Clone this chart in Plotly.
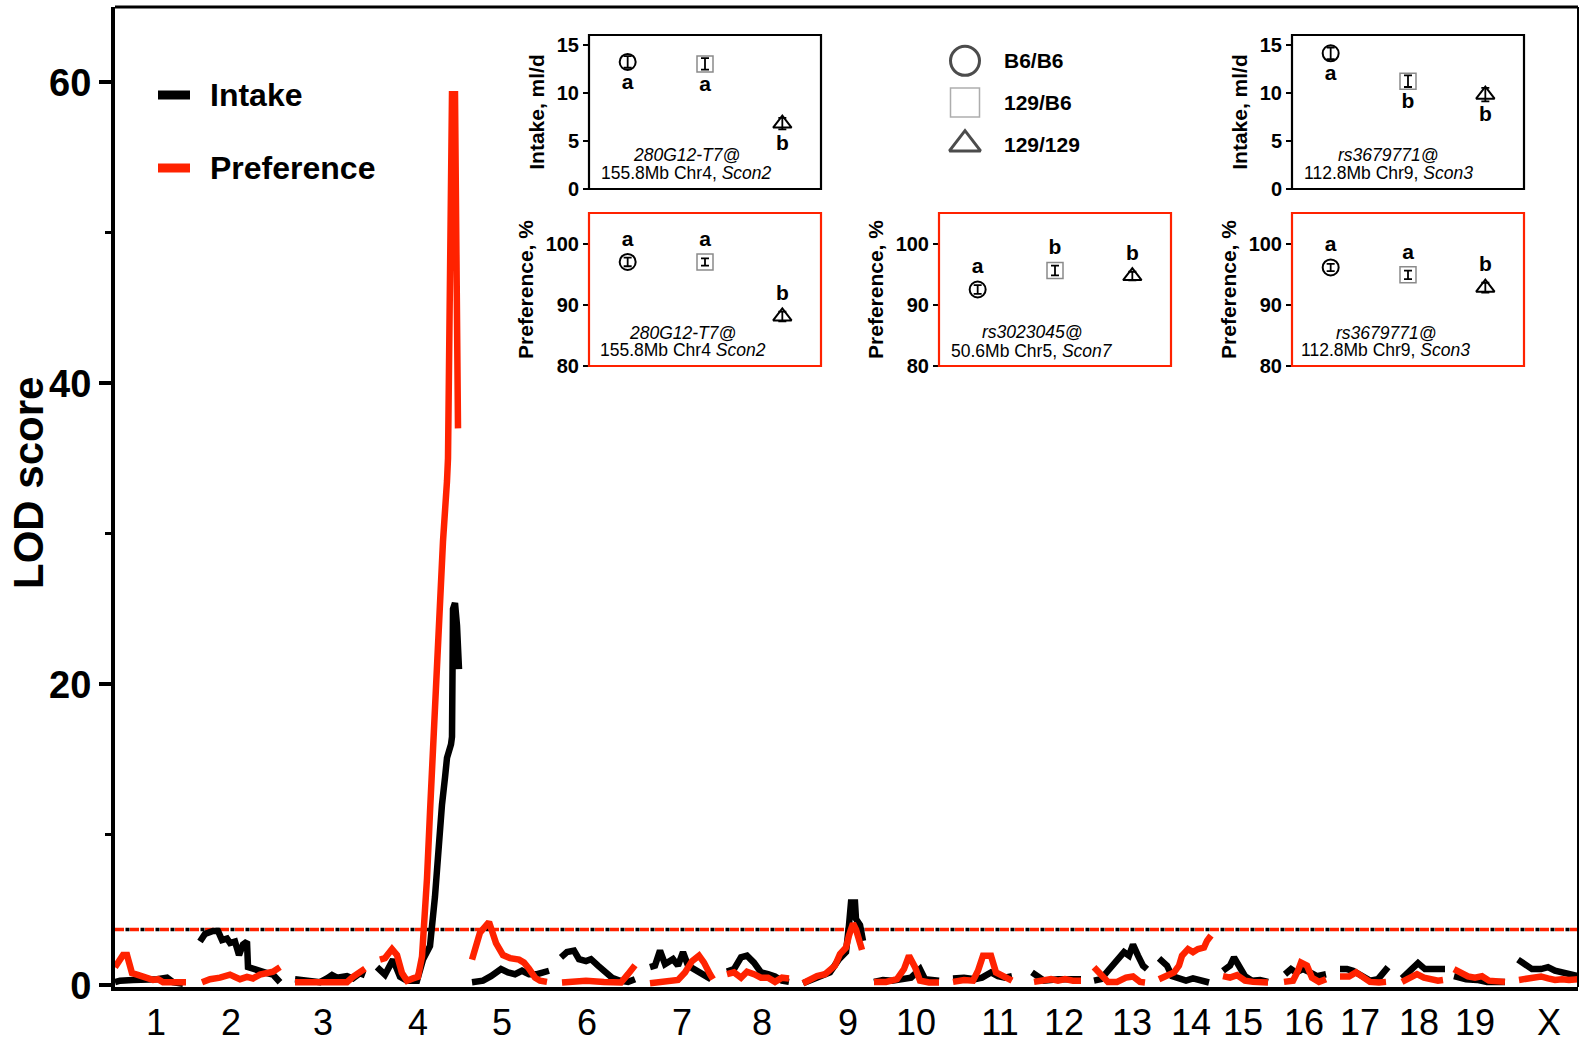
import plotly.graph_objects as go

FONT = "Arial, 'Liberation Sans', Helvetica, sans-serif"
RED = "#ff2200"

# ---------------- main LOD scan data ----------------
chrom_names = ["1", "2", "3", "4", "5", "6", "7", "8", "9", "10",
               "11", "12", "13", "14", "15", "16", "17", "18", "19", "X"]
# chromosome start offsets on the concatenated genome axis (cM-like units)
chrom_start = [0, 85, 180, 262, 357, 446, 535, 612, 688, 759,
               838, 915, 979, 1044, 1108, 1169, 1225, 1287, 1339, 1403]
genome_end = 1463
label_pos = [41, 116, 208, 303, 387, 472, 567, 647, 733, 801,
             885, 949, 1017, 1076, 1128, 1189, 1245, 1304, 1360, 1434]

intake_pos = [
    [0, 5, 18, 28, 42, 52, 58, 68],
    [0, 5, 13, 18, 22, 27, 30, 35, 39, 43, 47, 48, 53, 60, 67, 73, 80],
    [0, 12, 25, 32, 37, 42, 52, 58, 65, 70],
    [0, 8, 16, 23, 30, 40, 46, 53, 58, 61, 65, 68, 70, 74, 75, 76, 78, 80, 82],
    [0, 11, 19, 29, 36, 43, 50, 57, 65, 72, 77],
    [0, 6, 13, 18, 25, 30, 37, 44, 51, 59, 67, 74],
    [0, 5, 10, 15, 23, 28, 33, 38, 44, 49, 56, 61],
    [0, 7, 14, 20, 27, 34, 41, 48, 55, 62],
    [0, 14, 27, 36, 43, 46, 48, 52, 53, 57, 60],
    [0, 9, 18, 26, 37, 46, 51, 58, 65],
    [0, 11, 22, 29, 38, 45, 52, 59],
    [2, 14, 28, 43, 51],
    [0, 7, 14, 23, 30, 35, 39, 44, 49, 53],
    [0, 8, 13, 20, 27, 34, 41, 50],
    [0, 7, 11, 16, 22, 29, 37, 45],
    [1, 7, 12, 19, 26, 33, 42],
    [0, 7, 13, 22, 30, 38, 45, 48],
    [0, 7, 16, 23, 30, 38, 43],
    [0, 12, 23, 33, 44, 51],
    [0, 7, 14, 23, 30, 37, 44, 51, 60],
]
intake_lod = [
    [0.2, 0.3, 0.35, 0.35, 0.4, 0.5, 0.2, 0.1],
    [2.9, 3.4, 3.6, 3.6, 3.0, 3.1, 2.8, 2.9, 2.0, 2.7, 2.9, 1.2, 1.1, 0.9, 0.8, 0.7, 0.2],
    [0.4, 0.27, 0.2, 0.45, 0.67, 0.5, 0.6, 0.45, 0.8, 0.67],
    [1.2, 0.7, 1.7, 0.56, 0.3, 0.3, 1.7, 2.6, 5.9, 9.3, 12.0, 13.8, 15.1, 16.0, 16.5, 25.0, 25.4, 23.9, 21.0],
    [0.2, 0.3, 0.6, 1.07, 0.85, 0.73, 0.96, 0.73, 0.73, 0.85, 0.96],
    [1.85, 2.2, 2.3, 1.73, 1.6, 1.73, 1.3, 0.96, 0.5, 0.3, 0.22, 0.4],
    [1.2, 1.3, 2.3, 1.4, 1.73, 1.3, 2.2, 1.3, 1.07, 0.85, 0.6, 0.4],
    [0.9, 1.07, 1.85, 1.96, 1.5, 0.85, 0.73, 0.58, 0.3, 0.22],
    [0.13, 0.5, 0.85, 1.73, 2.2, 4.0, 5.5, 5.5, 4.4, 4.0, 2.95],
    [0.22, 0.35, 0.3, 0.35, 0.5, 1.07, 0.4, 0.35, 0.3],
    [0.45, 0.5, 0.4, 0.5, 0.85, 0.6, 0.5, 0.6],
    [0.85, 0.3, 0.4, 0.35, 0.4],
    [0.3, 0.4, 0.96, 1.6, 2.2, 1.96, 2.7, 1.96, 1.3, 1.07],
    [1.78, 1.3, 0.6, 0.5, 0.3, 0.45, 0.35, 0.18],
    [0.96, 1.3, 1.85, 1.2, 0.6, 0.3, 0.35, 0.22],
    [0.73, 1.07, 0.85, 1.07, 0.85, 0.6, 0.73],
    [1.07, 1.07, 0.96, 0.6, 0.3, 0.4, 0.96, 1.2],
    [0.45, 0.85, 1.47, 1.07, 1.1, 1.07, 1.07],
    [0.6, 0.4, 0.35, 0.22, 0.22, 0.22],
    [1.7, 1.4, 1.07, 1.07, 1.2, 0.96, 0.85, 0.73, 0.6],
]
pref_pos = [
    [0, 8, 12, 17, 22, 28, 33, 38, 43, 48, 55, 62, 71],
    [2, 10, 20, 30, 35, 40, 47, 53, 60, 67, 73, 80],
    [0, 12, 25, 38, 52, 58, 65, 70],
    [3, 8, 15, 20, 25, 30, 36, 41, 45, 47, 50, 53, 56, 60, 63, 66, 70, 71, 75, 78, 81],
    [0, 8, 17, 24, 31, 38, 47, 52, 57, 63, 68, 75],
    [1, 11, 25, 43, 60, 67, 74],
    [0, 14, 28, 35, 42, 49, 54, 60, 63],
    [0, 7, 14, 20, 27, 34, 41, 48, 55, 62],
    [0, 7, 14, 22, 27, 32, 37, 43, 46, 50, 53, 57, 59],
    [0, 12, 23, 30, 35, 41, 46, 55, 65],
    [0, 11, 20, 25, 30, 38, 43, 50, 59],
    [4, 14, 21, 28, 35, 43, 51],
    [0, 7, 14, 23, 32, 39, 46, 51],
    [0, 8, 15, 20, 23, 29, 34, 39, 45, 48, 52],
    [0, 7, 14, 22, 30, 45],
    [0, 9, 14, 17, 23, 28, 35, 42],
    [0, 9, 16, 23, 30, 39, 46],
    [0, 9, 15, 22, 29, 36, 41],
    [0, 7, 14, 21, 28, 35, 44, 51],
    [1, 8, 16, 23, 30, 37, 44, 51, 60],
]
pref_lod = [
    [1.2, 2.0, 2.0, 0.8, 0.7, 0.55, 0.45, 0.35, 0.4, 0.2, 0.2, 0.2, 0.2],
    [0.2, 0.4, 0.5, 0.7, 0.55, 0.4, 0.55, 0.45, 0.7, 0.8, 0.9, 1.2],
    [0.2, 0.22, 0.2, 0.27, 0.2, 0.55, 0.9, 1.1],
    [1.7, 1.8, 2.4, 2.0, 0.8, 0.3, 0.45, 0.56, 1.9, 3.7, 7.1, 11.5, 16.0, 20.5, 25.0, 29.5, 33.5, 35.0, 59.2, 59.2, 37.0],
    [1.7, 3.5, 4.2, 2.8, 2.0, 1.8, 1.7, 1.5, 1.1, 0.5, 0.3, 0.22],
    [0.18, 0.22, 0.3, 0.22, 0.18, 0.73, 1.33],
    [0.13, 0.22, 0.35, 0.85, 1.6, 1.96, 1.5, 0.73, 0.4],
    [0.73, 0.85, 0.5, 0.9, 0.73, 0.5, 0.5, 0.22, 0.5, 0.45],
    [0.13, 0.4, 0.6, 0.73, 1.07, 1.3, 2.07, 2.5, 3.3, 4.1, 3.7, 2.6, 2.35],
    [0.22, 0.22, 0.4, 1.07, 1.96, 1.2, 0.3, 0.18, 0.18],
    [0.22, 0.35, 0.3, 0.96, 1.96, 1.96, 0.85, 0.6, 0.3],
    [0.22, 0.3, 0.4, 0.3, 0.4, 0.3, 0.3],
    [1.2, 0.73, 0.22, 0.22, 0.5, 0.58, 0.22, 0.18],
    [0.4, 0.6, 0.85, 1.3, 1.96, 2.4, 2.2, 2.4, 2.5, 2.95, 3.3],
    [0.6, 0.5, 0.67, 0.3, 0.22, 0.18],
    [0.22, 0.3, 0.96, 1.5, 1.3, 0.5, 0.22, 0.4],
    [0.58, 0.58, 0.85, 0.5, 0.22, 0.18, 0.22],
    [0.22, 0.58, 0.73, 0.5, 0.4, 0.3, 0.35],
    [1.07, 0.85, 0.58, 0.5, 0.6, 0.3, 0.22, 0.22],
    [0.35, 0.45, 0.5, 0.58, 0.45, 0.35, 0.4, 0.35, 0.4],
]
threshold_lod = 3.7

# ---------------- inset (genotype effect) data ----------------
genotypes = ["B6/B6", "129/B6", "129/129"]
intake_chr4_mean = [13.2, 13.0, 6.8]
intake_chr4_sem = [0.6, 0.6, 0.6]
intake_chr4_letters = ["a", "a", "b"]
pref_chr4_mean = [97.0, 97.0, 88.1]
pref_chr4_sem = [0.7, 0.6, 0.8]
pref_chr4_letters = ["a", "a", "b"]
pref_chr5_mean = [92.5, 95.6, 94.7]
pref_chr5_sem = [0.7, 0.8, 0.7]
pref_chr5_letters = ["a", "b", "b"]
intake_chr9_mean = [14.1, 11.2, 9.8]
intake_chr9_sem = [0.6, 0.6, 0.7]
intake_chr9_letters = ["a", "b", "b"]
pref_chr9_mean = [96.1, 94.9, 92.8]
pref_chr9_sem = [0.6, 0.7, 0.8]
pref_chr9_letters = ["a", "a", "b"]


def genome_series(pos_lists, lod_lists):
    xs, ys = [], []
    for start, p, l in zip(chrom_start, pos_lists, lod_lists):
        xs += [start + v for v in p] + [None]
        ys += list(l) + [None]
    return xs, ys


fig = go.Figure()

# threshold lines
fig.add_trace(go.Scatter(x=[0, genome_end], y=[threshold_lod, threshold_lod], mode="lines",
                         line=dict(color="black", width=3.5, dash="0px,10.5px,4px,0.5px"),
                         showlegend=False, hoverinfo="skip"))
fig.add_trace(go.Scatter(x=[0, genome_end], y=[threshold_lod, threshold_lod], mode="lines",
                         line=dict(color=RED, width=3.5, dash="9px,6px"),
                         showlegend=False, hoverinfo="skip"))

ix, iy = genome_series(intake_pos, intake_lod)
px_, py_ = genome_series(pref_pos, pref_lod)
fig.add_trace(go.Scatter(x=ix, y=iy, mode="lines", name="Intake",
                         line=dict(color="black", width=6.5), showlegend=False))
fig.add_trace(go.Scatter(x=px_, y=py_, mode="lines", name="Preference",
                         line=dict(color=RED, width=6.5), showlegend=False))

# ---------------- layout of main axes ----------------
L, R, T, B = 115, 8, 7, 59
W, H = 1586, 1046
PW, PH = W - L - R, H - T - B


def px2paper_x(px):
    return (px - L) / PW


def px2paper_y(py):
    return (H - B - py) / PH


fig.update_layout(
    width=W, height=H,
    margin=dict(l=L, r=R, t=T, b=B, autoexpand=False),
    plot_bgcolor="white", paper_bgcolor="white",
    font=dict(family=FONT, color="black"),
    xaxis=dict(range=[0, genome_end], showgrid=False, zeroline=False, automargin=False,
               showline=True, linewidth=4, linecolor="black",
               tickmode="array", tickvals=label_pos, ticktext=chrom_names,
               ticks="", tickfont=dict(size=36, family=FONT, color="black"),
               ticklabelstandoff=1),
    yaxis=dict(range=[-0.12, 65], showgrid=False, zeroline=False, automargin=False,
               showline=True, linewidth=4, linecolor="black",
               tickmode="array", tickvals=[0, 20, 40, 60],
               ticks="outside", ticklen=12, tickwidth=3.5, tickcolor="black",
               tickfont=dict(size=38, family=FONT, color="black", weight="bold"),
               minor=dict(tickvals=[10, 30, 50], ticks="outside", ticklen=6,
                          tickwidth=3, tickcolor="black")),
)

shapes = [
    dict(type="line", xref="paper", yref="paper", x0=0, x1=1, y0=1, y1=1,
         line=dict(color="black", width=3)),
    dict(type="line", xref="paper", yref="paper", x0=1, x1=1, y0=0, y1=1,
         line=dict(color="black", width=2)),
]
annotations = [
    dict(text="<b>LOD score</b>", xref="paper", yref="paper",
         x=px2paper_x(28), y=px2paper_y(483), textangle=-90, showarrow=False,
         font=dict(size=42, family=FONT, color="black"), xanchor="center", yanchor="middle"),
]

# main legend
for label, color, ypix in [("Intake", "black", 95), ("Preference", RED, 168)]:
    shapes.append(dict(type="line", xref="paper", yref="paper",
                       x0=px2paper_x(158), x1=px2paper_x(190),
                       y0=px2paper_y(ypix), y1=px2paper_y(ypix),
                       line=dict(color=color, width=9)))
    annotations.append(dict(text=f"<b>{label}</b>", xref="paper", yref="paper",
                            x=px2paper_x(208), y=px2paper_y(ypix), xanchor="left",
                            yanchor="middle", showarrow=False,
                            font=dict(size=32, family=FONT, color="black")))

# ---------------- insets ----------------
symbols = ["circle-open", "square-open", "triangle-up-open"]
sym_colors = ["black", "#8a8a8a", "black"]
sym_lw = [2, 1.5, 2]


def add_inset(k, xpix, ypix, means, sems, letters, above, yrange, ytickvals, ytitle,
              frame_color, line1, line2, tx, ty1, ty2):
    xa, ya = f"x{k}", f"y{k}"
    fig.add_trace(go.Scatter(
        x=genotypes, y=means, xaxis=xa, yaxis=ya, mode="markers+text",
        text=letters, textposition="top center" if above else "bottom center",
        textfont=dict(size=21, family=FONT, color="black", weight="bold"),
        marker=dict(symbol=symbols, size=16, color=sym_colors,
                    line=dict(width=sym_lw, color=sym_colors)),
        error_y=dict(type="data", array=sems, color="black", thickness=1.8, width=4),
        showlegend=False, cliponaxis=False))
    fig.update_layout(**{
        f"xaxis{k}": dict(domain=[px2paper_x(xpix[0]), px2paper_x(xpix[1])], anchor=ya,
                          range=[-0.5, 2.5], showgrid=False, zeroline=False,
                          showline=False, showticklabels=False, ticks=""),
        f"yaxis{k}": dict(domain=[px2paper_y(ypix[1]), px2paper_y(ypix[0])], anchor=xa,
                          range=yrange, showgrid=False, zeroline=False, showline=False,
                          tickmode="array", tickvals=ytickvals, ticks="outside",
                          ticklen=5, tickwidth=2, tickcolor="black",
                          tickfont=dict(size=20, family=FONT, color="black", weight="bold"),
                          title=dict(text=ytitle, standoff=6,
                                     font=dict(size=21, family=FONT, color="black",
                                               weight="bold"))),
    })
    shapes.append(dict(type="rect", xref=f"{xa} domain", yref=f"{ya} domain",
                       x0=0, x1=1, y0=0, y1=1, line=dict(color=frame_color, width=2.2)))
    for txt, ty in [(line1, ty1), (line2, ty2)]:
        annotations.append(dict(text=txt, xref=f"{xa} domain", yref=f"{ya} domain",
                                x=tx, y=ty, xanchor="center", yanchor="middle",
                                showarrow=False,
                                font=dict(size=17.5, family=FONT, color="black")))


add_inset(2, (589, 821), (35, 189), intake_chr4_mean, intake_chr4_sem, intake_chr4_letters,
          False, [0, 16], [0, 5, 10, 15], "Intake, ml/d", "black",
          "<i>280G12-T7@</i>", "155.8Mb Chr4, <i>Scon2</i>", 0.42, 0.221, 0.104)
add_inset(3, (589, 821), (213, 366), pref_chr4_mean, pref_chr4_sem, pref_chr4_letters,
          True, [80, 105], [80, 90, 100], "Preference, %", RED,
          "<i>280G12-T7@</i>", "155.8Mb Chr4 <i>Scon2</i>", 0.405, 0.216, 0.105)
add_inset(4, (939, 1171), (213, 366), pref_chr5_mean, pref_chr5_sem, pref_chr5_letters,
          True, [80, 105], [80, 90, 100], "Preference, %", RED,
          "<i>rs3023045@</i>", "50.6Mb Chr5, <i>Scon7</i>", 0.40, 0.222, 0.095)
add_inset(5, (1292, 1524), (35, 189), intake_chr9_mean, intake_chr9_sem, intake_chr9_letters,
          False, [0, 16], [0, 5, 10, 15], "Intake, ml/d", "black",
          "<i>rs3679771@</i>", "112.8Mb Chr9, <i>Scon3</i>", 0.414, 0.221, 0.104)
add_inset(6, (1292, 1524), (213, 366), pref_chr9_mean, pref_chr9_sem, pref_chr9_letters,
          True, [80, 105], [80, 90, 100], "Preference, %", RED,
          "<i>rs3679771@</i>", "112.8Mb Chr9, <i>Scon3</i>", 0.405, 0.216, 0.105)

# genotype symbol legend
leg_rows = [3, 2, 1]
fig.add_trace(go.Scatter(
    x=[0.129, 0.129, 0.129], y=leg_rows, xaxis="x7", yaxis="y7", mode="markers",
    marker=dict(symbol=symbols, size=[29, 29, 27], color=sym_colors,
                line=dict(width=[3, 1.5, 3], color=sym_colors)),
    showlegend=False, hoverinfo="skip", cliponaxis=False))
fig.update_layout(
    xaxis7=dict(domain=[px2paper_x(945), px2paper_x(1100)], anchor="y7", range=[0, 1],
                visible=False),
    yaxis7=dict(domain=[px2paper_y(165), px2paper_y(40)], anchor="x7", range=[0.5, 3.5],
                visible=False),
)
for g, r in zip(genotypes, leg_rows):
    annotations.append(dict(text=f"<b>{g}</b>", xref="x7", yref="y7", x=0.368, y=r,
                            xanchor="left", yanchor="middle", showarrow=False,
                            font=dict(size=21, family=FONT, color="black")))

fig.update_layout(shapes=shapes, annotations=annotations)

fig.write_html("out.html", include_plotlyjs=True, full_html=True,
               config={"displayModeBar": False},
               post_script="document.body.style.margin='0';document.body.style.overflow='hidden';")
